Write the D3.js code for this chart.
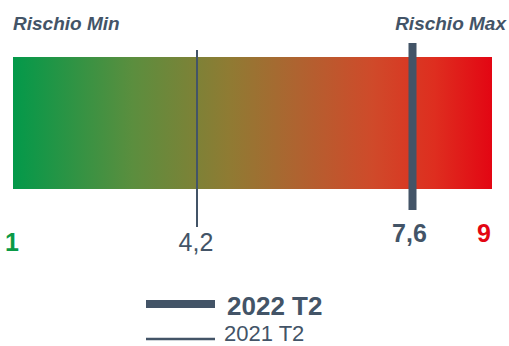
<!DOCTYPE html>
<html>
<head>
<meta charset="utf-8">
<script src="https://cdn.jsdelivr.net/npm/d3@7"></script>
<style>
  body { margin: 0; background: #fff; }
  text { font-family: "Liberation Sans", Arial, sans-serif; }
</style>
</head>
<body>
<div id="chart"></div>
<script>
// scale ends and the two markers
var scaleEnds = [1, 9];
var endLabels = ["1", "9"];
var endColors = ["#0a9a46", "#e30613"];
var markerNames = ["2022 T2", "2021 T2"];
var markerValues = [7.6, 4.2];
var markerLabels = ["7,6", "4,2"];

var width = 509, height = 346;
var dark = "#435467";

var svg = d3.select("#chart")
  .append("svg")
  .attr("width", width)
  .attr("height", height);

// bar area
var barLeft = 13, barRight = 492, barTop = 57, barBottom = 189;

// value scale (markers)
var x = d3.scaleLinear()
  .domain([4.2, 7.6])
  .range([197, 412.5]);

var defs = svg.append("defs");
var grad = defs.append("linearGradient")
  .attr("id", "riskGrad")
  .attr("x1", "0%").attr("x2", "100%")
  .attr("y1", "0%").attr("y2", "0%");
[
  [0, "#03994a"], [0.25, "#5b8e3e"], [0.45, "#8f7b33"],
  [0.6, "#b06230"], [0.75, "#cf4a2a"], [0.88, "#de2e1f"], [1, "#e30613"]
].forEach(function(s) {
  grad.append("stop").attr("offset", s[0]).attr("stop-color", s[1]);
});

svg.append("rect")
  .attr("x", barLeft)
  .attr("y", barTop)
  .attr("width", barRight - barLeft)
  .attr("height", barBottom - barTop)
  .attr("fill", "url(#riskGrad)");

// titles
svg.append("text")
  .attr("x", 13).attr("y", 30)
  .style("font-size", "19px").style("font-weight", "bold").style("font-style", "italic")
  .style("fill", dark)
  .text("Rischio Min");
svg.append("text")
  .attr("x", 506).attr("y", 30)
  .attr("text-anchor", "end")
  .style("font-size", "19px").style("font-weight", "bold").style("font-style", "italic")
  .style("fill", dark)
  .text("Rischio Max");

// markers
var markerStyle = [
  { w: 8, top: 43, bottom: 210, bold: true, labelY: 242 },
  { w: 2, top: 50, bottom: 227, bold: false, labelY: 251 }
];

markerValues.forEach(function(v, i) {
  var s = markerStyle[i];
  svg.append("line")
    .attr("x1", x(v)).attr("x2", x(v))
    .attr("y1", s.top).attr("y2", s.bottom)
    .attr("stroke", dark)
    .attr("stroke-width", s.w);
  svg.append("text")
    .attr("x", x(v) - (s.bold ? 3 : 1))
    .attr("y", s.labelY)
    .attr("text-anchor", "middle")
    .style("font-size", "25px")
    .style("font-weight", s.bold ? "bold" : "normal")
    .style("fill", dark)
    .text(markerLabels[i]);
});

// end labels
svg.selectAll(".end")
  .data(scaleEnds)
  .enter().append("text")
  .attr("class", "end")
  .attr("x", function(d, i) { return i === 0 ? 12 : 484; })
  .attr("y", function(d, i) { return i === 0 ? 251 : 242; })
  .attr("text-anchor", "middle")
  .style("font-size", "25px")
  .style("font-weight", "bold")
  .style("fill", function(d, i) { return endColors[i]; })
  .text(function(d, i) { return endLabels[i]; });

// legend
var legend = svg.append("g");
markerNames.forEach(function(name, i) {
  var s = markerStyle[i];
  var y = i === 0 ? 304 : 339;
  legend.append("line")
    .attr("x1", 146).attr("x2", 215)
    .attr("y1", y).attr("y2", y)
    .attr("stroke", dark)
    .attr("stroke-width", i === 0 ? 8 : 2.5);
  legend.append("text")
    .attr("x", i === 0 ? 227 : 224)
    .attr("y", i === 0 ? 315 : 341)
    .style("font-size", i === 0 ? "26px" : "22px")
    .style("font-weight", s.bold ? "bold" : "normal")
    .style("fill", dark)
    .text(name);
});
</script>
</body>
</html>
